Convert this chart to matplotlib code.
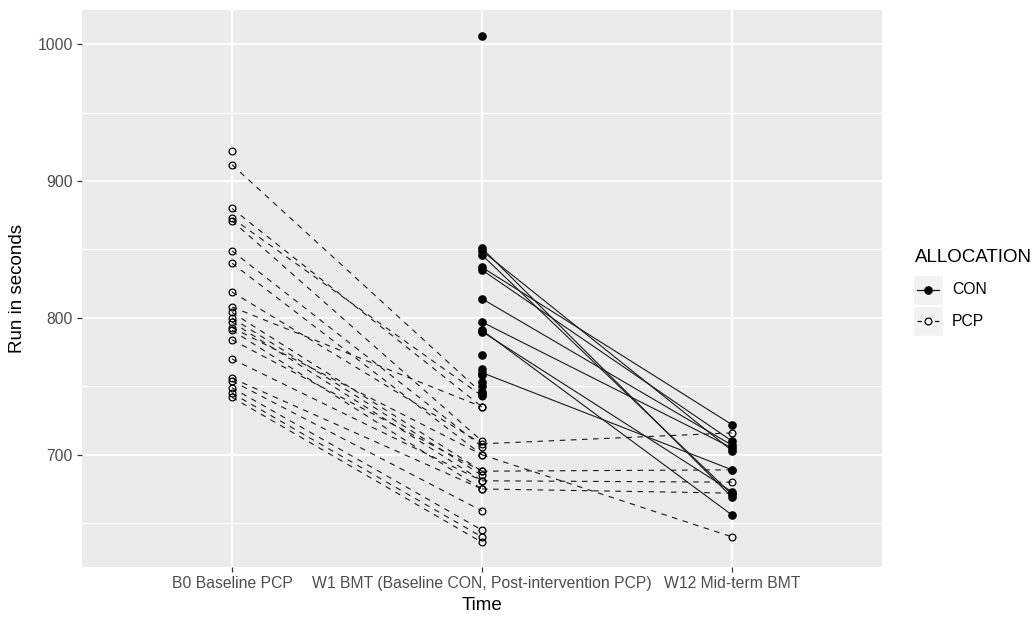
import numpy as np
import matplotlib
matplotlib.use("Agg")
import matplotlib.pyplot as plt
from matplotlib.patches import Rectangle

plt.rcParams['font.family'] = ['Liberation Sans', 'DejaVu Sans']

# ---------------- data ----------------
time_labels = ["B0 Baseline PCP",
               "W1 BMT (Baseline CON, Post-intervention PCP)",
               "W12 Mid-term BMT"]
y_major = [700, 800, 900, 1000]
y_minor = [650, 750, 850, 950]
groups = ["CON", "PCP"]

nan = np.nan
# CON: measured at W1 (baseline) and W12
con_w1 = [1006, 851, 849, 846, 837, 835, 814, 797, 791, 790,
          773, 763, 760, 758, 753, 750, 746, 744]
con_w12 = [nan, 669, 703, 671, 722, 710, 707, 705, 656, 673,
           nan, nan, 689, nan, nan, nan, nan, nan]

# PCP: measured at B0, W1 and W12
pcp_b0 = [922, 912, 880, 873, 871, 849, 840, 819, 808, 804, 800,
          797, 793, 791, 784, 770, 756, 754, 749, 745, 742]
pcp_w1 = [nan, 745, 735, 743, 710, 706, 700, 708, 735, 688, 685,
          681, 700, 675, 688, 681, 675, 659, 645, 640, 636]
pcp_w12 = [nan, nan, nan, nan, nan, nan, nan, 716, nan, 689, nan,
           680, 640, 672, nan, nan, nan, nan, nan, nan, nan]

# ---------------- figure ----------------
W, H = 1032, 617
fig = plt.figure(figsize=(W / 100, H / 100), dpi=100)
fig.patch.set_facecolor('white')

L, R, T, B = 82, 882, 10, 567
ax = fig.add_axes([L / W, 1 - B / H, (R - L) / W, (B - T) / H])
ax.set_facecolor('#EBEBEB')
for s in ax.spines.values():
    s.set_visible(False)

xpos = np.arange(1, len(time_labels) + 1)
ax.set_xlim(0.4, 3.6)
ax.set_ylim(618, 1025)

# grid
for v in y_minor:
    ax.axhline(v, color='white', lw=0.75, zorder=0)
for v in y_major:
    ax.axhline(v, color='white', lw=1.5, zorder=0)
for v in xpos:
    ax.axvline(v, color='white', lw=1.5, zorder=0)

line_col = '#1a1a1a'
dash = (0, (5, 5))
ms_fill, ms_open = 5.2, 4.9

# CON subjects (solid, filled)
for a, b in zip(con_w1, con_w12):
    if not np.isnan(b):
        ax.plot([xpos[1], xpos[2]], [a, b], color=line_col, lw=0.8, zorder=2)
for a, b in zip(con_w1, con_w12):
    for x, y in zip([xpos[1], xpos[2]], [a, b]):
        if not np.isnan(y):
            ax.plot(x, y, 'o', ms=ms_fill, color='black', zorder=4)

# PCP subjects (dashed, open)
for a, b, c in zip(pcp_b0, pcp_w1, pcp_w12):
    vals = [a, b, c]
    for i in range(2):
        if not (np.isnan(vals[i]) or np.isnan(vals[i + 1])):
            ax.plot([xpos[i], xpos[i + 1]], [vals[i], vals[i + 1]],
                    color=line_col, lw=0.8, linestyle=dash, zorder=2)
for a, b, c in zip(pcp_b0, pcp_w1, pcp_w12):
    for x, y in zip(xpos, [a, b, c]):
        if not np.isnan(y):
            ax.plot(x, y, 'o', ms=ms_open, mfc='none', mec='black', mew=0.9,
                    zorder=3)

ax.set_xticks(xpos)
ax.set_xticklabels(time_labels)
ax.set_yticks(y_major)
ax.set_yticklabels([str(v) for v in y_major])
ax.tick_params(axis='both', length=3.5, width=0.9, color='#333333',
               labelcolor='#4D4D4D', labelsize=11.3, pad=3)

fig.text(((L + R) / 2) / W, 1 - 606 / H, "Time", ha='center', va='center',
         fontsize=13.5, color='black')
fig.text(18 / W, 1 - ((T + B) / 2) / H, "Run in seconds", ha='center',
         va='center', rotation=90, fontsize=13.5, color='black')

# ---------------- legend ----------------
lax = fig.add_axes([0, 0, 1, 1], facecolor='none')
lax.set_xlim(0, W)
lax.set_ylim(H, 0)
lax.axis('off')
lax.text(915, 258, "ALLOCATION", ha='left', va='center', fontsize=13.5,
         color='black')
key_x0, key_w, key_h = 913, 30, 30
rows = [290, 321]
for g, yc in zip(groups, rows):
    lax.add_patch(Rectangle((key_x0, yc - key_h / 2), key_w, key_h,
                            facecolor='#F2F2F2', edgecolor='white', lw=1))
    if g == "CON":
        lax.plot([key_x0 + 4, key_x0 + key_w - 4], [yc, yc], color=line_col,
                 lw=0.9)
        lax.plot(key_x0 + key_w / 2, yc, 'o', ms=ms_fill, color='black')
    else:
        lax.plot([key_x0 + 4, key_x0 + key_w - 4], [yc, yc], color=line_col,
                 lw=0.9, linestyle=(0, (3.5, 3.5)))
        lax.plot(key_x0 + key_w / 2, yc, 'o', ms=ms_open, mfc='#F2F2F2',
                 mec='black', mew=0.9)
    lax.text(952, yc, g, ha='left', va='center', fontsize=11.3,
             color='black')

fig.savefig("out.png", dpi=100)
